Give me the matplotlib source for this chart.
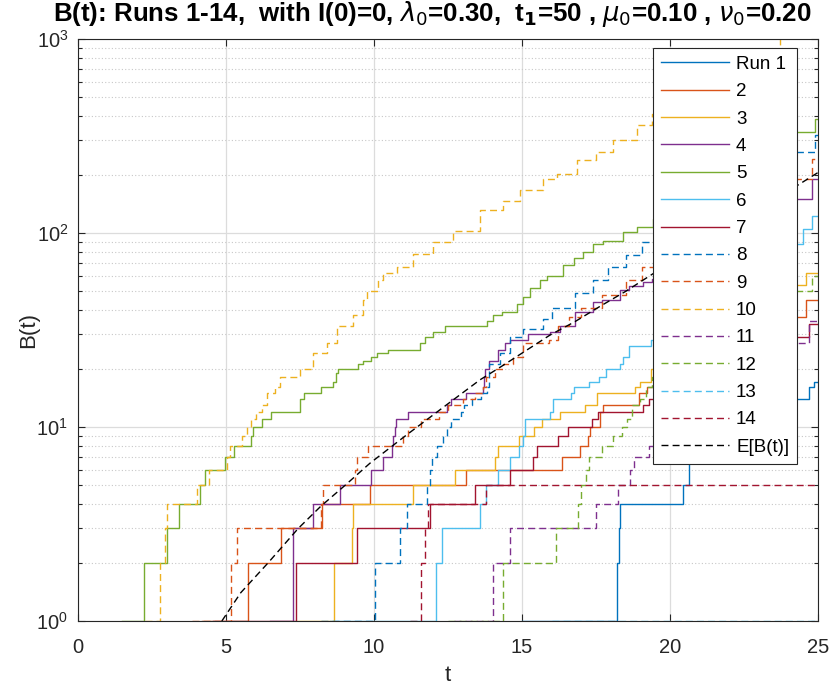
import matplotlib
matplotlib.use("Agg")
import matplotlib.pyplot as plt
from matplotlib.ticker import LogLocator, NullFormatter

plt.rcParams['font.family'] = ['Liberation Sans', 'DejaVu Sans']
plt.rcParams['mathtext.fontset'] = 'dejavusans'

# ---------------- data (jump times and values after each jump) ----------------
t1 = [15.0, 18.2, 18.28, 18.31, 20.45, 20.64, 21.0, 22.0, 23.0, 24.0, 24.7, 24.85]
b1 = [1, 2, 3, 4, 5, 7, 8, 9, 11, 14, 16, 17]

t2 = [4.2, 5.75, 6.86, 8.23, 9.86, 13.1, 16.34, 16.96, 17.24, 17.3, 17.64, 17.75, 18.94, 19.22,
      20.0, 21.0, 22.0, 23.0, 24.0, 24.6]
b2 = [1, 2, 3, 4, 5, 6, 7, 8, 9, 10, 12, 13, 15, 16, 18, 21, 25, 30, 37, 45]

t3 = [7.4, 8.65, 9.25, 9.3, 11.33, 12.74, 14.09, 14.2, 14.91, 15.39, 15.67, 16.3, 17.14, 17.53,
      18.83, 19.0, 19.35, 20.0, 21.0, 22.0, 23.0, 24.0, 24.6]
b3 = [1, 2, 3, 4, 5, 6, 7, 8, 9, 10, 11, 12, 13, 15, 16, 17, 20, 24, 29, 36, 44, 54, 62]

t4 = [6.5, 7.25, 7.27, 7.95, 8.85, 9.89, 10.32, 10.6, 10.65, 10.71, 10.75, 11.16, 12.46, 12.6, 13.1,
      13.69, 13.72, 13.75, 13.9, 14.2, 14.43, 14.6, 15.2, 15.95, 16.3, 16.8, 17.4, 17.7, 18.3, 18.6,
      19.1, 19.4, 19.75, 20.0, 21.0, 22.0, 23.0, 24.0, 24.8]
b4 = [1, 2, 3, 4, 5, 6, 7, 8, 9, 10, 11, 12, 13, 14, 15, 16, 18, 20, 22, 25, 27, 28, 30, 31, 33,
      39, 44, 45, 51, 53, 56, 58, 63, 66, 80, 98, 120, 150, 190]

t5 = [1.48, 2.23, 3.02, 3.40, 4.12, 4.30, 4.98, 5.28, 5.83, 5.9, 6.2, 6.51, 7.5, 7.62, 8.2, 8.6,
      8.7, 8.8, 9.47, 9.64, 9.9, 10.09, 10.48, 11.55, 11.73, 12.0, 12.4, 13.81, 14.03, 14.32, 14.82,
      15.05, 15.27, 15.61, 15.83, 16.4, 16.74, 17.07, 17.4, 17.75, 18.42, 18.87, 19.44, 20.0, 21.0,
      22.0, 23.0, 24.0, 24.9]
b5 = [1, 2, 3, 4, 5, 6, 7, 8, 9, 10, 11, 12, 14, 15, 16, 17, 19, 20, 21, 22, 23, 24, 25, 27, 29,
      31, 33, 35, 38, 39, 43, 47, 52, 57, 60, 68, 74, 80, 88, 91, 101, 108, 118, 135, 170, 215,
      270, 330, 385]

t6 = [8.5, 12.08, 12.29, 13.58, 13.8, 14.2, 14.6, 14.9, 15.05, 15.1, 15.93, 16.05, 16.67, 16.75,
      17.27, 17.6, 17.85, 18.3, 18.4, 18.6, 19.35, 20.0, 21.0, 22.0, 23.0, 24.0, 24.5, 24.8]
b6 = [1, 2, 3, 4, 5, 6, 7, 8, 9, 11, 12, 14, 15, 16, 17, 18, 20, 21, 23, 26, 28, 31, 40, 52, 68,
      88, 105, 122]

t7 = [4.57, 7.36, 9.41, 11.89, 13.41, 14.6, 15.38, 15.5, 16.23, 16.57, 17.35, 17.58, 19.1, 19.3,
      20.0, 21.0, 22.0, 23.0, 24.0, 24.7]
b7 = [1, 2, 3, 4, 5, 6, 7, 8, 9, 10, 11, 12, 13, 14, 15, 17, 20, 24, 29, 34]

t8 = [8.2, 10.03, 10.88, 11.1, 11.78, 11.9, 11.95, 12.12, 12.34, 12.45, 12.6, 12.95, 13.05, 13.3,
      13.6, 13.81, 13.9, 14.26, 14.6, 15.05, 15.7, 16.0, 16.8, 17.4, 17.9, 18.5, 19.07, 19.45,
      20.0, 21.0, 22.0, 23.0, 24.0, 24.9]
b8 = [1, 2, 3, 4, 5, 6, 7, 8, 9, 10, 11, 12, 13, 14, 15, 16, 21, 24, 29, 32, 36, 41, 49, 57, 67,
      77, 90, 103, 115, 140, 170, 210, 260, 320]

t9 = [3.84, 5.16, 5.38, 8.2, 8.29, 9.36, 9.41, 9.8, 10.99, 11.16, 11.6, 12.2, 12.5, 13.0, 13.4,
      13.69, 13.8, 14.1, 14.37, 14.7, 15.05, 15.9, 16.2, 16.6, 17.0, 17.7, 18.5, 19.05, 19.6,
      20.0, 21.0, 22.0, 23.0, 24.0, 24.8]
b9 = [1, 2, 3, 4, 5, 6, 7, 8, 9, 10, 11, 12, 13, 14, 15, 16, 18, 20, 21, 23, 27, 28, 33, 37, 41,
      48, 57, 67, 77, 83, 100, 123, 150, 190, 240]

t10 = [2.26, 2.78, 2.95, 3.02, 4.01, 4.44, 5.02, 5.13, 5.55, 5.7, 5.85, 6.0, 6.2, 6.4, 6.66, 6.82,
       7.5, 7.95, 8.4, 8.74, 9.3, 9.64, 9.75, 10.15, 10.32, 10.77, 11.33, 12.0, 12.68, 13.58,
       14.37, 14.93, 15.72, 16.17, 16.85, 17.5, 18.08, 18.87, 19.38, 20.0, 21.0, 22.0, 23.0, 23.7,
       24.5]
b10 = [1, 2, 3, 4, 5, 6, 7, 8, 9, 10, 11, 12, 13, 15, 16, 18, 20, 24, 27, 33, 38, 45, 50, 57, 62,
       67, 78, 90, 103, 131, 147, 166, 190, 202, 237, 262, 301, 359, 410, 465, 580, 710, 870,
       1010, 1200]

t11 = [12.7, 14.03, 14.6, 17.5, 18.26, 18.66, 18.8, 19.3, 20.0, 21.0, 22.0, 23.0, 24.0, 24.7]
b11 = [1, 2, 3, 4, 5, 6, 7, 8, 9, 12, 15, 20, 27, 35]

t12 = [12.5, 14.35, 16.14, 16.9, 16.98, 17.16, 17.27, 17.69, 18.09, 18.37, 18.54, 18.7, 19.0,
       19.2, 19.4, 20.0, 21.0, 22.0, 23.0, 24.0, 24.8]
b12 = [1, 2, 3, 4, 5, 6, 7, 8, 9, 10, 11, 13, 14, 16, 18, 22, 27, 33, 40, 50, 60]

t13 = [16.0]
b13 = [1]

t14 = [11.2, 11.58, 11.72, 11.83, 13.8]
b14 = [1, 2, 3, 4, 5]

# expected value E[B(t)]
te = [4.86, 5.5, 6.43, 7.44, 8.2, 9.02, 9.86, 11.1, 12.3, 13.58, 14.3, 15.95, 16.8, 17.65, 18.5,
      19.45, 21.0, 23.0, 25.0]
be = [1.0, 1.4, 2.0, 3.0, 3.9, 5.0, 6.5, 9.1, 12.5, 17.5, 20.5, 29.8, 35.0, 42.0, 50.0, 62.0,
      86.0, 132.0, 205.0]

run_t = [t1, t2, t3, t4, t5, t6, t7, t8, t9, t10, t11, t12, t13, t14]
run_b = [b1, b2, b3, b4, b5, b6, b7, b8, b9, b10, b11, b12, b13, b14]
labels = ['Run 1'] + [str(i) for i in range(2, 15)]

T_END = 25.0
colors = ['#0072BD', '#D95319', '#EDB120', '#7E2F8E', '#77AC30', '#4DBEEE', '#A2142F']

# ---------------- figure ----------------
fig = plt.figure(figsize=(8.30, 6.88), dpi=100)
ax = fig.add_axes([78/830, 1-621/688, 740/830, 582/688])

for i, (tt, bb) in enumerate(zip(run_t, run_b)):
    ls = '-' if i < 7 else (0, (5, 3))
    ax.step(list(tt) + [T_END], list(bb) + [bb[-1]], where='post',
            color=colors[i % 7], lw=1.0, linestyle=ls, label=labels[i])
ax.plot(te, be, color='black', lw=1.0, linestyle=(0, (5, 3)), label='E[B(t)]')

ax.set_yscale('log')
ax.set_xlim(0, 25)
ax.set_ylim(1, 1000)
ax.set_xticks([0, 5, 10, 15, 20, 25])
ax.yaxis.set_major_locator(LogLocator(base=10, numticks=10))
ax.yaxis.set_minor_locator(LogLocator(base=10, subs=range(2, 10), numticks=50))
ax.yaxis.set_minor_formatter(NullFormatter())

ax.grid(True, which='major', color='#dcdcdc', lw=0.9, linestyle='-')
ax.grid(True, which='minor', axis='y', color='#c8c8c8', lw=0.8, linestyle=(0, (1, 2)))
ax.set_axisbelow(True)

axis_col = '#262626'
for s in ax.spines.values():
    s.set_color(axis_col)
    s.set_linewidth(0.8)
ax.tick_params(which='both', direction='in', top=True, right=True, colors=axis_col,
               labelsize=14.5, width=0.8)
ax.tick_params(which='major', length=5)
ax.tick_params(which='minor', length=3)
ax.tick_params(axis='x', pad=12)
ax.tick_params(axis='y', pad=7)

ax.set_xlabel('t', fontsize=16, color=axis_col)
ax.set_ylabel('B(t)', fontsize=16, color=axis_col)
ax.xaxis.set_label_coords(0.5, -0.076)
ax.yaxis.set_label_coords(-0.052, 0.5)

title = (r'B(t): Runs 1-14,  with I(0)=0, $\lambda_0$=0.30,  t$_{\mathbf{1}}$=50 , '
         r'$\mu_0$=0.10 , $\nu_0$=0.20')
fig.text(432/830, 1-21/688, title, ha='center', va='baseline', fontsize=18.6,
         fontweight='bold', color='black')

leg = ax.legend(loc='upper right', bbox_to_anchor=((797-78)/740, (621-48)/582),
                borderaxespad=0, fontsize=13.5, frameon=True, fancybox=False,
                handlelength=3.6, handletextpad=0.4, labelspacing=0.545, borderpad=0.42)
leg.get_frame().set_edgecolor(axis_col)
leg.get_frame().set_linewidth(0.8)
leg.get_frame().set_alpha(1)

fig.savefig('out.png', dpi=100)
